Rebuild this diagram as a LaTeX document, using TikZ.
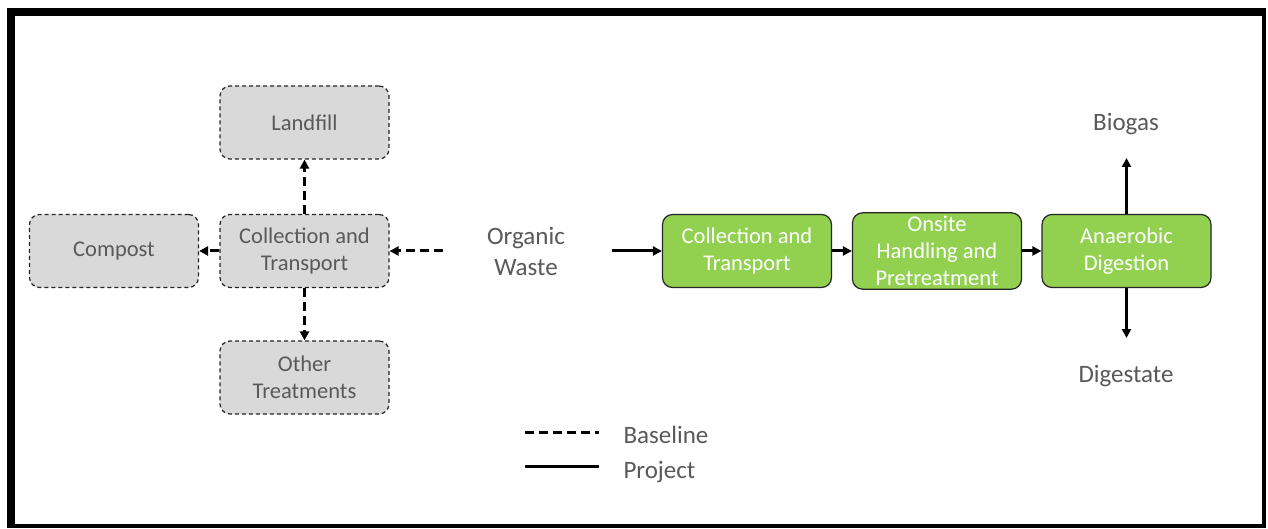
\documentclass[tikz,border=0pt]{standalone}
\usepackage{fontspec}
\setmainfont{Carlito}
\usepackage{tikz}
\usetikzlibrary{arrows.meta}
\definecolor{txtgray}{HTML}{595959}
\definecolor{boxgray}{HTML}{D9D9D9}
\definecolor{boxgreen}{HTML}{92D050}
\tikzset{
  basebox/.style={draw=black!85,fill=boxgray,rounded corners=10pt,dashed,dash pattern=on 4pt off 3pt,
    line width=1.2pt,minimum width=169pt,minimum height=73pt,align=center,text=txtgray,font=\fontsize{22.5}{27}\selectfont},
  projbox/.style={draw=black!85,fill=boxgreen,rounded corners=10pt,line width=1.2pt,
    minimum width=169pt,minimum height=73pt,align=center,text=white,font=\fontsize{22.5}{27}\selectfont},
  lbl/.style={align=center,text=txtgray,font=\fontsize{25}{31}\selectfont},
  flow/.style={line width=3pt,-{Triangle[length=9pt,width=9pt]}},
  baseflow/.style={flow,dash pattern=on 9pt off 5pt}
}
\begin{document}
\begin{tikzpicture}[x=1pt,y=-1pt]
  \useasboundingbox (0,0) rectangle (1268,529);
  % frame
  \fill[black] (7,8) rectangle (1266,528);
  \fill[white] (15,16) rectangle (1262,524);

  % baseline
  \node[basebox] (landfill) at (304.5,122.5) {Landfill};
  \node[basebox] (ctbase) at (304.5,251) {Collection and\\Transport};
  \node[basebox] (compost) at (114,251) {Compost};
  \node[basebox] (other) at (304.5,377.5) {Other\\Treatments};
  \node[lbl] (waste) at (526,251) {Organic\\Waste};

  % project
  \node[projbox] (ctproj) at (747,251) {Collection and\\Transport};
  \node[projbox] (onsite) at (937,251) {Onsite\\Handling and\\Pretreatment};
  \node[projbox] (ad) at (1126.5,251) {Anaerobic\\Digestion};
  \node[lbl] (biogas) at (1126,124) {Biogas};
  \node[lbl] (digest) at (1126,376) {Digestate};

  \coordinate (wl) at (443,251);
  \coordinate (wr) at (612,251);
  \coordinate (bgend) at (1126.5,158);
  \coordinate (dgend) at (1126.5,338);

  \draw[baseflow] (wl) -- (ctbase);
  \draw[baseflow] (ctbase) -- (landfill);
  \draw[baseflow] (ctbase) -- (other);
  \draw[baseflow] (ctbase) -- (compost);

  \draw[flow] (wr) -- (ctproj);
  \draw[flow] (ctproj) -- (onsite);
  \draw[flow] (onsite) -- (ad);
  \draw[flow] (ad.north) -- (bgend);
  \draw[flow] (ad.south) -- (dgend);

  % legend
  \coordinate (b1) at (525,432);
  \coordinate (b2) at (599,432);
  \coordinate (p1) at (525,466);
  \coordinate (p2) at (599,466);
  \draw[line width=3pt,dash pattern=on 9pt off 5pt] (b1) -- (b2);
  \draw[line width=3pt] (p1) -- (p2);
  \node[lbl,anchor=west] (lbase) at (620,435) {Baseline};
  \node[lbl,anchor=west] (lproj) at (620,472) {Project};
\end{tikzpicture}
\end{document}
